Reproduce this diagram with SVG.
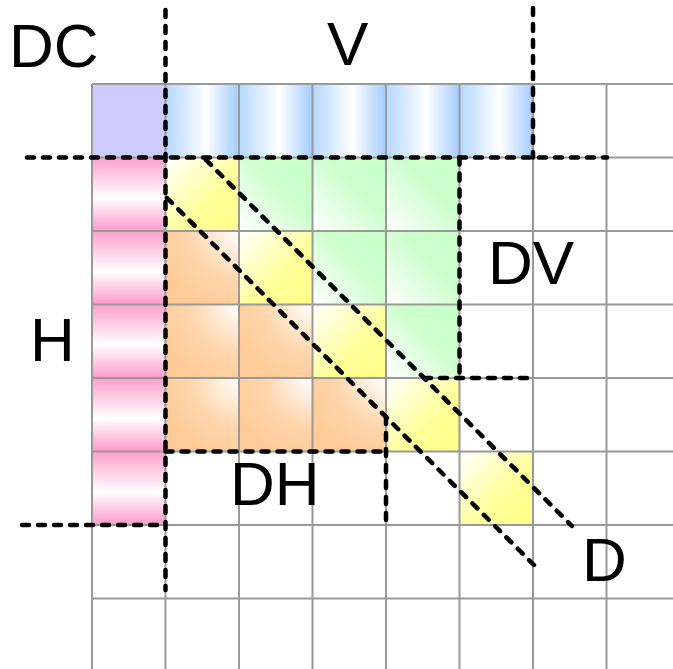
<svg xmlns="http://www.w3.org/2000/svg" width="673" height="669" viewBox="0 0 673 669">
  <style>
    .grid { stroke: #999999; stroke-width: 2; fill: none; }
    .bound { stroke: #000000; stroke-width: 4.5; fill: none; stroke-dasharray: 7 9; stroke-linecap: round; }
    .label { font-family: "Liberation Sans", Arial, sans-serif; font-size: 62px; fill: #000000; }
  </style>
  <defs>
    <linearGradient id="gBlue" x1="0" y1="0" x2="1" y2="0">
      <stop offset="0" stop-color="#b4d8ff"/>
      <stop offset="0.55" stop-color="#ffffff"/>
      <stop offset="1" stop-color="#a4ccff"/>
    </linearGradient>
    <linearGradient id="gPink" x1="0" y1="0" x2="0" y2="1">
      <stop offset="0" stop-color="#ff9fcc"/>
      <stop offset="0.55" stop-color="#ffffff"/>
      <stop offset="1" stop-color="#ff99cc"/>
    </linearGradient>
    <linearGradient id="gYellow" x1="0" y1="0" x2="1" y2="1">
      <stop offset="0" stop-color="#ffffff"/>
      <stop offset="0.6" stop-color="#ffff99"/>
      <stop offset="1" stop-color="#ffff88"/>
    </linearGradient>
    <linearGradient id="gGreen" x1="0" y1="1" x2="1" y2="0">
      <stop offset="0" stop-color="#ffffff"/>
      <stop offset="0.6" stop-color="#ccffcc"/>
      <stop offset="1" stop-color="#c8ffc8"/>
    </linearGradient>
    <radialGradient id="gOrange" cx="1" cy="0" r="1.1">
      <stop offset="0" stop-color="#ffffff"/>
      <stop offset="0.6" stop-color="#ffd6ad"/>
      <stop offset="1" stop-color="#ffcc99"/>
    </radialGradient>
  </defs>

  <rect width="673" height="669" fill="#ffffff"/>

  <!-- filled cells (cell size 73.5, origin 92,84) -->
  <g id="cells">
    <g id="corner-DC">
      <rect x="92" y="84" width="73.5" height="73.5" fill="#ccccff"/>
    </g>
    <g id="row-V" fill="url(#gBlue)">
      <rect x="165.5" y="84" width="73.5" height="73.5"/>
      <rect x="239" y="84" width="73.5" height="73.5"/>
      <rect x="312.5" y="84" width="73.5" height="73.5"/>
      <rect x="386" y="84" width="73.5" height="73.5"/>
      <rect x="459.5" y="84" width="73.5" height="73.5"/>
    </g>
    <g id="column-H" fill="url(#gPink)">
      <rect x="92" y="157.5" width="73.5" height="73.5"/>
      <rect x="92" y="231" width="73.5" height="73.5"/>
      <rect x="92" y="304.5" width="73.5" height="73.5"/>
      <rect x="92" y="378" width="73.5" height="73.5"/>
      <rect x="92" y="451.5" width="73.5" height="73.5"/>
    </g>
    <g id="diagonal-D" fill="url(#gYellow)">
      <rect x="165.5" y="157.5" width="73.5" height="73.5"/>
      <rect x="239" y="231" width="73.5" height="73.5"/>
      <rect x="312.5" y="304.5" width="73.5" height="73.5"/>
      <rect x="386" y="378" width="73.5" height="73.5"/>
      <rect x="459.5" y="451.5" width="73.5" height="73.5"/>
    </g>
    <g id="upper-DV" fill="url(#gGreen)">
      <rect x="239" y="157.5" width="73.5" height="73.5"/>
      <rect x="312.5" y="157.5" width="73.5" height="73.5"/>
      <rect x="386" y="157.5" width="73.5" height="73.5"/>
      <rect x="312.5" y="231" width="73.5" height="73.5"/>
      <rect x="386" y="231" width="73.5" height="73.5"/>
      <rect x="386" y="304.5" width="73.5" height="73.5"/>
    </g>
    <g id="lower-DH" fill="url(#gOrange)">
      <rect x="165.5" y="231" width="73.5" height="73.5"/>
      <rect x="165.5" y="304.5" width="73.5" height="73.5"/>
      <rect x="239" y="304.5" width="73.5" height="73.5"/>
      <rect x="165.5" y="378" width="73.5" height="73.5"/>
      <rect x="239" y="378" width="73.5" height="73.5"/>
      <rect x="312.5" y="378" width="73.5" height="73.5"/>
    </g>
  </g>

  <!-- grid lines -->
  <g id="grid" class="grid">
    <path d="M92 84V669M165.5 84V669M239 84V669M312.5 84V669M386 84V669M459.5 84V669M533 84V669M606.5 84V669"/>
    <path d="M92 84H673M92 157.5H673M92 231H673M92 304.5H673M92 378H673M92 451.5H673M92 525H673M92 598.5H673"/>
  </g>

  <!-- dashed region boundaries -->
  <g id="connectors" class="bound">
    <path d="M165.5 10V590"/>
    <path d="M533 8V157.5"/>
    <path d="M27 157.5H607"/>
    <path d="M459.5 157.5V378"/>
    <path d="M424 378H533"/>
    <path d="M165.5 451.5H386"/>
    <path d="M386 417V525"/>
    <path d="M22 525H165.5"/>
    <path d="M206 160L572 526"/>
    <path d="M167 198L535 566"/>
  </g>

  <!-- region labels -->
  <g id="labels" class="label">
    <text x="9" y="67">DC</text>
    <text x="327" y="65">V</text>
    <text x="488" y="284">DV</text>
    <text x="30" y="361">H</text>
    <text x="230" y="505">DH</text>
    <text x="582" y="581">D</text>
  </g>
</svg>
